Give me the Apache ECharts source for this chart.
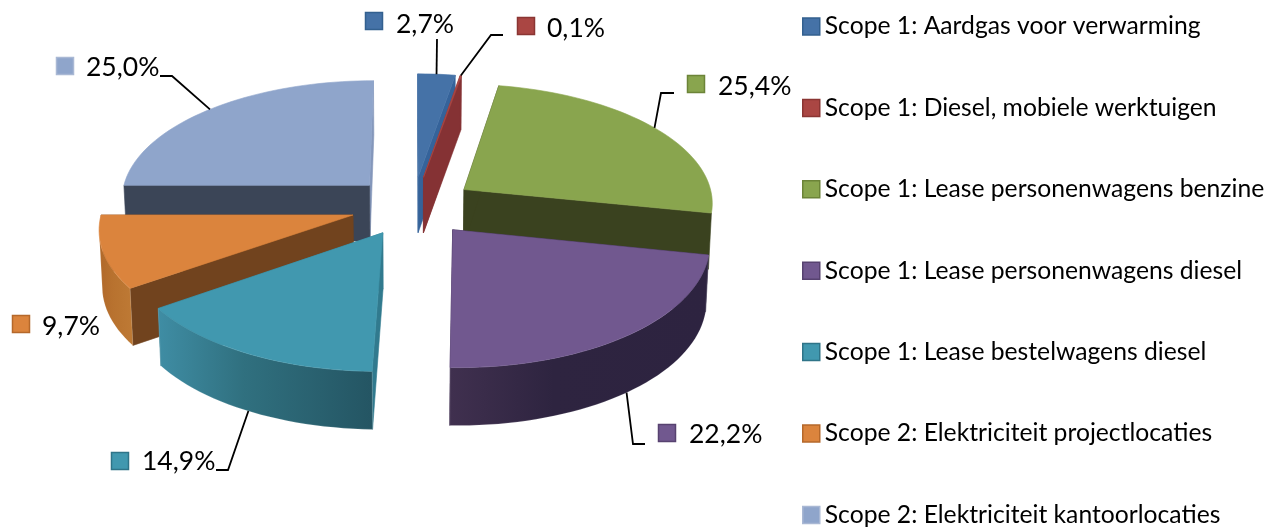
<!DOCTYPE html>
<html>
<head>
<meta charset="utf-8">
<style>html,body{margin:0;padding:0;background:#fff}#main{width:1280px;height:530px}</style>
<script src="https://cdn.jsdelivr.net/npm/echarts@6/dist/echarts.min.js"></script>
</head>
<body>
<div id="main"></div>
<script>
var categories = [
    'Scope 1: Aardgas voor verwarming',
    'Scope 1: Diesel, mobiele werktuigen',
    'Scope 1: Lease personenwagens benzine',
    'Scope 1: Lease personenwagens diesel',
    'Scope 1: Lease bestelwagens diesel',
    'Scope 2: Elektriciteit projectlocaties',
    'Scope 2: Elektriciteit kantoorlocaties'
];
var shares = [2.7, 0.1, 25.4, 22.2, 14.9, 9.7, 25.0];

var topColors = ['#4572A7', '#AA4643', '#89A54E', '#71588F', '#4198AF', '#DB843D', '#8FA5CB'];
var borderColors = ['#33608F', '#8A3533', '#6C8438', '#574270', '#2F7488', '#B5682B', '#A9B8D4'];
var startCutColors = ['#35639A', '#853234', '#3A421F', '#2E2440', '#317A8E', '#71431E', '#3B4557'];
var endCutColors = ['#35639A', '#853234', '#3A421F', '#3F2F52', '#317A8E', '#71431E', '#8497BB'];
var wallColors = [
    null, null, null,
    ['#40304F', '#2E2440', '#2D2340'],
    ['#3F8DA4', '#30707F', '#245563'],
    ['#B0682A', '#B8722F', '#BE7A35'],
    null
];
// painter's order, back slices first
var drawOrder = [3, 4, 1, 7, 6, 5, 2];

// label layout: marker box, text start, elbow of the leader line
var labelLayout = [
    {box: [365, 12], text: [396, 24], leader: [[437, 39]], wall: false},
    {box: [517, 17], text: [547, 28], leader: [[503, 35], [491, 35]], wall: false},
    {box: [687, 75], text: [718, 86], leader: [[674, 93], [661, 93]], wall: false},
    {box: [658, 424], text: [689, 434], leader: [[645, 444], [633, 444]], wall: true},
    {box: [111, 452], text: [142, 461], leader: [[216, 470], [228, 470]], wall: true},
    {box: [12, 315], text: [42, 326], leader: null, wall: false},
    {box: [56, 57], text: [86, 67], leader: [[160, 76], [172, 76]], wall: false}
];

var cx = 413, cy = 206, rx = 250, ry = 119, persp = 0.10, depth = 56, explode = 0.25;
var total = shares.reduce(function (a, b) { return a + b; }, 0);

function project(u, v, down) {
    var w = 1 - persp * v;
    var x = cx + rx * u / w;
    var y = cy + ry * v / w;
    if (down) {
        x = cx + (x - cx) * 0.99;
        y += depth * (1 + 0.03 * v);
    }
    return [x, y];
}

function rim(off, deg, down) {
    var a = deg * Math.PI / 180;
    return project(off[0] + Math.sin(a), off[1] - Math.cos(a), down);
}

function arcPoints(off, from, to, down) {
    var pts = [];
    var n = Math.max(2, Math.ceil((to - from) / 2));
    for (var i = 0; i <= n; i++) {
        pts.push(rim(off, from + (to - from) * i / n, down));
    }
    return pts;
}

function face(points, fill, stroke, z2) {
    return {
        type: 'polygon',
        z2: z2,
        shape: {points: points},
        style: {fill: fill, stroke: stroke || fill, lineWidth: 0.6}
    };
}

function renderSlice(idx) {
    return function (params, api) {
        var before = 0;
        for (var i = 0; i < idx; i++) before += shares[i];
        var a0 = before / total * 360;
        var a1 = (before + api.value(0)) / total * 360;
        var mid = (a0 + a1) / 2 * Math.PI / 180;
        var off = [explode * Math.sin(mid), -explode * Math.cos(mid)];
        var apexTop = project(off[0], off[1], false);
        var apexDown = project(off[0], off[1], true);
        var kids = [];

        kids.push(face([apexTop, rim(off, a1, false), rim(off, a1, true), apexDown], endCutColors[idx], null, 1));
        kids.push(face([apexTop, rim(off, a0, false), rim(off, a0, true), apexDown], startCutColors[idx], null, 2));

        // only the part of the rim that faces the viewer, up to the silhouette
        var wf = Math.max(a0, 90), wt = Math.min(a1, 260);
        if (wallColors[idx] && wt > wf) {
            var wall = arcPoints(off, wf, wt, false).concat(arcPoints(off, wf, wt, true).reverse());
            var c = wallColors[idx];
            kids.push(face(wall, new echarts.graphic.LinearGradient(0, 0, 1, 0, [
                {offset: 0, color: c[0]},
                {offset: 0.4, color: c[1]},
                {offset: 1, color: c[2]}
            ]), 'rgba(255,255,255,0.25)', 3));
        }

        kids.push(face([apexTop].concat(arcPoints(off, a0, a1, false)), topColors[idx], null, 4));

        var lay = labelLayout[idx];
        if (lay.leader) {
            var mdeg = (a0 + a1) / 2;
            var pts = lay.leader.concat([rim(off, mdeg, lay.wall)]);
            kids.push({
                type: 'polyline', z2: 5,
                shape: {points: pts},
                style: {fill: null, stroke: '#000', lineWidth: 1.8}
            });
        }
        kids.push({
            type: 'rect', z2: 5,
            shape: {x: lay.box[0] + 0.5, y: lay.box[1] + 0.5, width: 17, height: 17},
            style: {fill: topColors[idx], stroke: borderColors[idx], lineWidth: 1.5}
        });
        kids.push({
            type: 'text', z2: 5,
            style: {
                x: lay.text[0], y: lay.text[1],
                text: api.value(0).toFixed(1).replace('.', ',') + '%',
                font: '26.5px Lato', fill: '#000', verticalAlign: 'middle', align: 'left'
            }
        });
        return {type: 'group', children: kids};
    };
}

var series = categories.map(function (name, i) {
    return {
        type: 'custom',
        name: name,
        coordinateSystem: 'none',
        z: drawOrder[i],
        silent: true,
        animation: false,
        itemStyle: {color: topColors[i]},
        renderItem: renderSlice(i),
        data: [[shares[i]]]
    };
});

var myChart = echarts.init(document.getElementById('main'), null, {renderer: 'canvas'});
myChart.setOption({
    backgroundColor: '#fff',
    animation: false,
    tooltip: {show: false},
    legend: {
        orient: 'vertical',
        left: 802,
        top: 14,
        padding: 0,
        itemWidth: 17,
        itemHeight: 17,
        itemGap: 56.4,
        selectedMode: false,
        textStyle: {fontFamily: 'Lato', fontSize: 24.7, color: '#000', padding: [0, 0, 0, 0]},
        data: categories.map(function (name, i) {
            return {
                name: name,
                icon: 'rect',
                itemStyle: {color: topColors[i], borderColor: borderColors[i], borderWidth: 1.5}
            };
        })
    },
    series: series
});
</script>
</body>
</html>
